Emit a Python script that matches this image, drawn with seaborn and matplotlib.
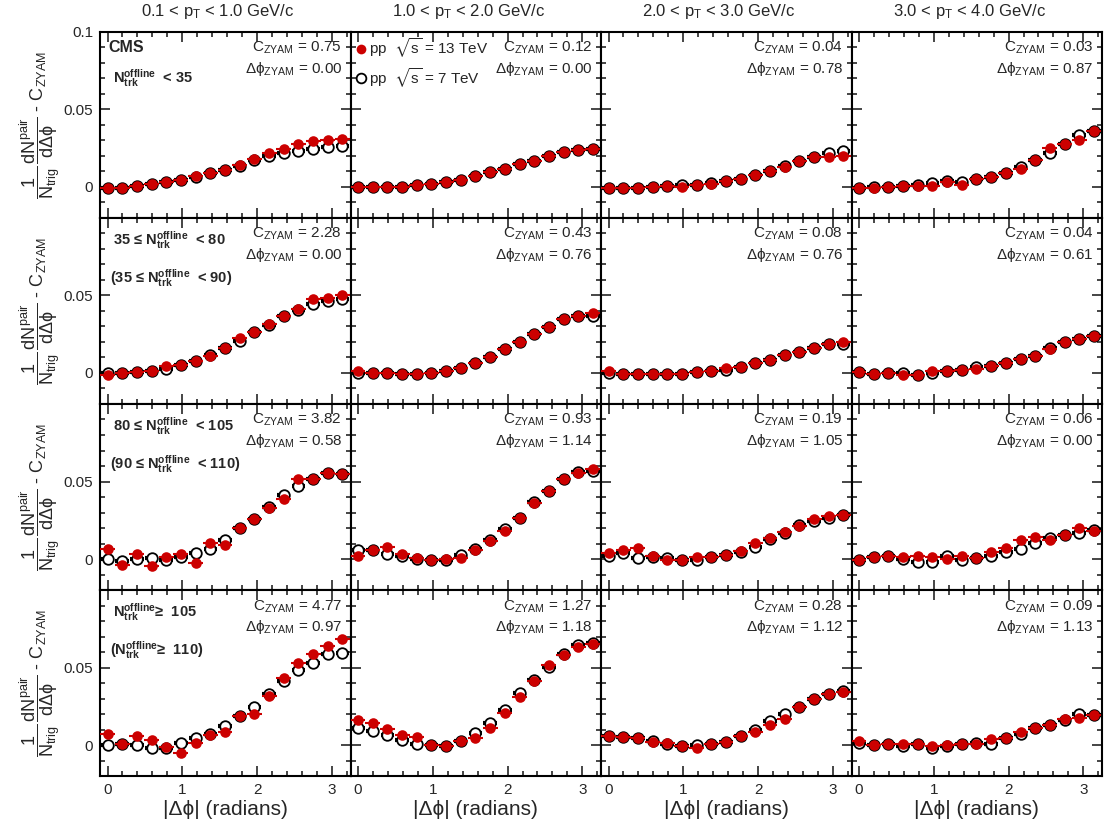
import numpy as np
import pandas as pd
import matplotlib
matplotlib.use("Agg")
import matplotlib.pyplot as plt
from matplotlib.ticker import MultipleLocator
from matplotlib.lines import Line2D
import seaborn as sns


# bin centres of |dphi| (0 .. pi, 16 bins)
dphi = [0.000, 0.196, 0.393, 0.589, 0.785, 0.982, 1.178, 1.374, 1.571,
        1.767, 1.963, 2.160, 2.356, 2.553, 2.749, 2.945, 3.142]

pt_bins = ["0.1 < p$_{\\rm T}$ < 1.0 GeV/c", "1.0 < p$_{\\rm T}$ < 2.0 GeV/c",
           "2.0 < p$_{\\rm T}$ < 3.0 GeV/c", "3.0 < p$_{\\rm T}$ < 4.0 GeV/c"]

# row 1 : N < 35
r1c1_13 = [-0.0004, -0.0004, 0.0006, 0.0017, 0.0032, 0.0043, 0.0069, 0.0090, 0.0112, 0.0144, 0.0183, 0.0216, 0.0246, 0.0276, 0.0297, 0.0302, 0.0308]
r1c1_7 = [-0.0004, -0.0004, 0.0006, 0.0017, 0.0032, 0.0043, 0.0067, 0.0088, 0.0108, 0.0138, 0.0172, 0.0198, 0.0216, 0.0233, 0.0248, 0.0259, 0.0263]
r1c2_13 = [0.0000, -0.0002, -0.0002, 0.0002, 0.0011, 0.0019, 0.0032, 0.0047, 0.0069, 0.0095, 0.0116, 0.0147, 0.0170, 0.0198, 0.0224, 0.0237, 0.0248]
r1c2_7 = [0.0000, -0.0002, -0.0002, 0.0002, 0.0011, 0.0019, 0.0032, 0.0047, 0.0069, 0.0095, 0.0116, 0.0147, 0.0170, 0.0198, 0.0224, 0.0237, 0.0248]
r1c3_13 = [-0.0004, -0.0006, -0.0004, 0.0000, 0.0004, 0.0002, 0.0011, 0.0019, 0.0039, 0.0052, 0.0078, 0.0100, 0.0126, 0.0167, 0.0193, 0.0195, 0.0201]
r1c3_7 = [-0.0004, -0.0006, -0.0004, 0.0000, 0.0004, 0.0011, 0.0011, 0.0028, 0.0039, 0.0052, 0.0078, 0.0100, 0.0136, 0.0167, 0.0193, 0.0216, 0.0229]
r1c4_13 = [-0.0004, -0.0004, 0.0002, 0.0009, 0.0006, 0.0004, 0.0032, 0.0013, 0.0054, 0.0065, 0.0091, 0.0115, 0.0173, 0.0251, 0.0277, 0.0303, 0.0359]
r1c4_7 = [-0.0004, 0.0002, 0.0002, 0.0009, 0.0011, 0.0026, 0.0039, 0.0030, 0.0052, 0.0065, 0.0093, 0.0126, 0.0177, 0.0216, 0.0277, 0.0335, 0.0361]

# row 2 : 35 <= N < 80
r2c1_13 = [-0.0015, -0.0002, 0.0006, 0.0013, 0.0048, 0.0052, 0.0080, 0.0110, 0.0160, 0.0227, 0.0262, 0.0318, 0.0370, 0.0416, 0.0476, 0.0483, 0.0500]
r2c1_7 = [0.0002, -0.0002, 0.0006, 0.0013, 0.0024, 0.0052, 0.0076, 0.0119, 0.0160, 0.0206, 0.0262, 0.0310, 0.0370, 0.0409, 0.0446, 0.0465, 0.0478]
r2c2_13 = [0.0011, -0.0002, -0.0002, -0.0006, -0.0009, -0.0002, 0.0013, 0.0032, 0.0067, 0.0102, 0.0154, 0.0201, 0.0253, 0.0297, 0.0346, 0.0370, 0.0387]
r2c2_7 = [-0.0002, -0.0002, -0.0002, -0.0006, -0.0009, -0.0002, 0.0013, 0.0032, 0.0067, 0.0102, 0.0154, 0.0201, 0.0253, 0.0297, 0.0346, 0.0370, 0.0370]
r2c3_13 = [0.0011, -0.0006, -0.0006, -0.0006, -0.0009, -0.0004, 0.0006, 0.0015, 0.0035, 0.0037, 0.0063, 0.0084, 0.0115, 0.0136, 0.0162, 0.0184, 0.0201]
r2c3_7 = [-0.0002, -0.0006, -0.0006, -0.0006, -0.0009, -0.0004, 0.0006, 0.0015, 0.0019, 0.0037, 0.0063, 0.0084, 0.0115, 0.0136, 0.0162, 0.0184, 0.0184]
r2c4_13 = [0.0006, -0.0006, -0.0002, -0.0011, -0.0011, 0.0011, 0.0011, 0.0019, 0.0028, 0.0045, 0.0067, 0.0089, 0.0110, 0.0154, 0.0201, 0.0219, 0.0236]
r2c4_7 = [0.0006, -0.0006, -0.0002, 0.0002, -0.0011, 0.0002, 0.0011, 0.0019, 0.0041, 0.0045, 0.0067, 0.0089, 0.0110, 0.0162, 0.0201, 0.0219, 0.0236]

# row 3 : 80 <= N < 105
r3c1_13 = [0.0065, -0.0037, 0.0035, -0.0043, 0.0011, 0.0030, -0.0026, 0.0104, 0.0093, 0.0201, 0.0255, 0.0329, 0.0385, 0.0515, 0.0519, 0.0556, 0.0548]
r3c1_7 = [0.0000, -0.0013, 0.0000, 0.0006, -0.0004, 0.0013, 0.0039, 0.0065, 0.0121, 0.0201, 0.0255, 0.0333, 0.0416, 0.0468, 0.0515, 0.0554, 0.0548]
r3c2_13 = [0.0022, 0.0061, 0.0076, 0.0035, 0.0004, -0.0004, 0.0000, 0.0004, 0.0061, 0.0117, 0.0180, 0.0262, 0.0359, 0.0437, 0.0515, 0.0554, 0.0580]
r3c2_7 = [0.0061, 0.0056, 0.0035, 0.0022, 0.0000, -0.0009, -0.0006, 0.0028, 0.0065, 0.0121, 0.0195, 0.0262, 0.0368, 0.0437, 0.0519, 0.0563, 0.0569]
r3c3_13 = [0.0039, 0.0061, 0.0071, 0.0017, -0.0004, -0.0009, 0.0013, 0.0013, 0.0028, 0.0050, 0.0104, 0.0136, 0.0177, 0.0212, 0.0255, 0.0277, 0.0286]
r3c3_7 = [0.0017, 0.0039, 0.0009, 0.0013, 0.0004, -0.0004, -0.0009, 0.0013, 0.0026, 0.0048, 0.0078, 0.0130, 0.0168, 0.0221, 0.0245, 0.0266, 0.0286]
r3c4_13 = [-0.0009, 0.0013, 0.0017, 0.0013, 0.0017, 0.0013, 0.0000, 0.0017, 0.0004, 0.0043, 0.0071, 0.0121, 0.0143, 0.0121, 0.0152, 0.0203, 0.0180]
r3c4_7 = [-0.0009, 0.0013, 0.0017, 0.0000, -0.0019, -0.0022, 0.0017, -0.0009, 0.0004, 0.0022, 0.0048, 0.0065, 0.0104, 0.0136, 0.0152, 0.0165, 0.0190]

# row 4 : N >= 105
r4c1_13 = [0.0073, 0.0004, 0.0058, 0.0030, -0.0011, -0.0052, 0.0015, 0.0065, 0.0086, 0.0188, 0.0203, 0.0317, 0.0431, 0.0526, 0.0586, 0.0636, 0.0683]
r4c1_7 = [0.0000, 0.0004, 0.0000, -0.0017, -0.0017, 0.0015, 0.0047, 0.0073, 0.0123, 0.0185, 0.0248, 0.0332, 0.0414, 0.0483, 0.0532, 0.0586, 0.0593]
r4c2_13 = [0.0160, 0.0139, 0.0106, 0.0065, 0.0054, 0.0000, -0.0009, 0.0026, 0.0048, 0.0113, 0.0208, 0.0307, 0.0411, 0.0519, 0.0578, 0.0632, 0.0654]
r4c2_7 = [0.0113, 0.0091, 0.0065, 0.0030, 0.0004, 0.0000, -0.0009, 0.0026, 0.0080, 0.0139, 0.0229, 0.0333, 0.0420, 0.0506, 0.0589, 0.0643, 0.0658]
r4c3_13 = [0.0058, 0.0052, 0.0043, 0.0022, 0.0013, -0.0009, -0.0017, 0.0004, 0.0022, 0.0056, 0.0087, 0.0130, 0.0171, 0.0247, 0.0294, 0.0329, 0.0340]
r4c3_7 = [0.0058, 0.0052, 0.0043, 0.0026, 0.0004, -0.0009, 0.0000, 0.0004, 0.0022, 0.0060, 0.0095, 0.0152, 0.0199, 0.0247, 0.0299, 0.0329, 0.0346]
r4c4_13 = [0.0026, 0.0000, 0.0004, 0.0004, 0.0009, -0.0009, 0.0000, 0.0004, 0.0004, 0.0037, 0.0048, 0.0082, 0.0108, 0.0128, 0.0165, 0.0177, 0.0195]
r4c4_7 = [0.0015, 0.0000, 0.0004, -0.0006, 0.0009, -0.0017, -0.0004, 0.0004, 0.0015, 0.0009, 0.0048, 0.0074, 0.0108, 0.0128, 0.0162, 0.0203, 0.0195]

c_zyam = [["0.75", "0.12", "0.04", "0.03"],
          ["2.28", "0.43", "0.08", "0.04"],
          ["3.82", "0.93", "0.19", "0.06"],
          ["4.77", "1.27", "0.28", "0.09"]]
dphi_zyam = [["0.00", "0.00", "0.78", "0.87"],
             ["0.00", "0.76", "0.76", "0.61"],
             ["0.58", "1.14", "1.05", "0.00"],
             ["0.97", "1.18", "1.12", "1.13"]]

ntrk = r"$\mathbf{N}_{\mathbf{trk}}^{\mathbf{offline}}$"
mult_labels = [[ntrk + "  < 35"],
               ["35 ≤ " + ntrk + "  < 80", "(35 ≤ " + ntrk + "  < 90)"],
               ["80 ≤ " + ntrk + "  < 105", "(90 ≤ " + ntrk + "  < 110)"],
               [ntrk + "≥  105", "(" + ntrk + "≥  110)"]]

pp13 = [[r1c1_13, r1c2_13, r1c3_13, r1c4_13],
        [r2c1_13, r2c2_13, r2c3_13, r2c4_13],
        [r3c1_13, r3c2_13, r3c3_13, r3c4_13],
        [r4c1_13, r4c2_13, r4c3_13, r4c4_13]]
pp7 = [[r1c1_7, r1c2_7, r1c3_7, r1c4_7],
       [r2c1_7, r2c2_7, r2c3_7, r2c4_7],
       [r3c1_7, r3c2_7, r3c3_7, r3c4_7],
       [r4c1_7, r4c2_7, r4c3_7, r4c4_7]]

sns.set_style("ticks")
plt.rcParams['font.family'] = ['Liberation Sans', 'DejaVu Sans']
plt.rcParams['mathtext.fontset'] = 'custom'
plt.rcParams['mathtext.rm'] = 'Liberation Sans'
plt.rcParams['mathtext.it'] = 'Liberation Sans:italic'
plt.rcParams['mathtext.bf'] = 'Liberation Sans:bold'
plt.rcParams['mathtext.sf'] = 'Liberation Sans'
plt.rcParams['mathtext.default'] = 'regular'
plt.rcParams['mathtext.fallback'] = 'stixsans'

red = '#cc0000'

fig, axes = plt.subplots(4, 4, figsize=(11.08, 8.26), dpi=100)
fig.subplots_adjust(left=0.0903, right=0.9946, top=0.9613, bottom=0.0605,
                    wspace=0, hspace=0)

ylab = (r"$\dfrac{1}{N_{\rm trig}}\,\dfrac{dN^{\rm pair}}{d\Delta\phi}$"
        r" - C$_{\rm ZYAM}$")

for r in range(4):
    for c in range(4):
        ax = axes[r, c]
        df = pd.DataFrame({'dphi': dphi, 'pp7': pp7[r][c], 'pp13': pp13[r][c]})

        ax.errorbar(df['dphi'], df['pp7'], xerr=0.09, fmt='none',
                    ecolor='black', elinewidth=3, capsize=0, zorder=2)
        sns.scatterplot(data=df, x='dphi', y='pp7', ax=ax, s=58, marker='o',
                        color='white', edgecolor='black', linewidth=1.3,
                        zorder=3)
        ax.errorbar(df['dphi'], df['pp13'], xerr=0.1, fmt='none',
                    ecolor=red, elinewidth=1.5, capsize=0, zorder=4)
        sns.scatterplot(data=df, x='dphi', y='pp13', ax=ax, s=58, marker='o',
                        color=red, linewidth=0, zorder=5)

        ax.set_xlim(-0.1, 3.25)
        ax.set_ylim(-0.02, 0.1)
        ax.xaxis.set_major_locator(MultipleLocator(1))
        ax.xaxis.set_minor_locator(MultipleLocator(0.2))
        ax.yaxis.set_minor_locator(MultipleLocator(0.01))
        ax.tick_params(which='both', direction='in', top=True, right=True,
                       width=1.2, labelsize=11, pad=5)
        ax.tick_params(which='major', length=7)
        ax.tick_params(which='minor', length=3.5)
        for sp in ax.spines.values():
            sp.set_linewidth(1.5)
            sp.set_color('black')

        if c == 0:
            ax.set_yticks([0, 0.05, 0.1], ['0', '0.05', '0.1' if r == 0 else ''])
            ax.set_ylabel(ylab, fontsize=13)
            ax.yaxis.set_label_coords(-0.15, 0.5)
        else:
            ax.set_yticks([0, 0.05, 0.1], ['', '', ''])
            ax.set_ylabel('')

        if r == 3:
            ax.set_xticks([0, 1, 2, 3], ['0', '1', '2', '3'])
            ax.set_xlabel('|Δϕ| (radians)', fontsize=15, labelpad=2)
        else:
            ax.set_xticks([0, 1, 2, 3], ['', '', '', ''])
            ax.set_xlabel('')

        if r == 0:
            ax.text(0.47, 1.11, pt_bins[c], transform=ax.transAxes,
                    ha='center', va='center', fontsize=12)

        ax.text(0.966, 0.892, "C$_{\\rm ZYAM}$ = " + c_zyam[r][c],
                transform=ax.transAxes, ha='right', va='baseline', fontsize=11)
        ax.text(0.966, 0.78, "Δϕ$_{\\rm ZYAM}$ = " + dphi_zyam[r][c],
                transform=ax.transAxes, ha='right', va='baseline', fontsize=11)

    # multiplicity labels in the first column
    ax = axes[r, 0]
    if r == 0:
        ax.text(0.032, 0.892, "CMS", transform=ax.transAxes, ha='left',
                va='baseline', fontsize=11.5, fontweight='bold')
        ax.text(0.052, 0.726, mult_labels[r][0], transform=ax.transAxes,
                ha='left', va='baseline', fontsize=10.5, fontweight='bold')
    else:
        ax.text(0.052, 0.855, mult_labels[r][0], transform=ax.transAxes,
                ha='left', va='baseline', fontsize=10.5, fontweight='bold')
        ax.text(0.04, 0.65, mult_labels[r][1], transform=ax.transAxes,
                ha='left', va='baseline', fontsize=10.5, fontweight='bold')

handles = [Line2D([], [], marker='o', linestyle='none', color=red,
                  markersize=7, markeredgewidth=0),
           Line2D([], [], marker='o', linestyle='none', markerfacecolor='white',
                  markeredgecolor='black', markersize=7, markeredgewidth=1.3)]
axes[0, 1].legend(handles, [r"pp  $\sqrt{s}$ = 13 TeV", r"pp  $\sqrt{s}$ = 7 TeV"],
                  loc='upper left', bbox_to_anchor=(-0.025, 1.035), frameon=False,
                  fontsize=11, handlelength=0.8, handletextpad=0.15,
                  labelspacing=0.4, borderaxespad=0.3)

fig.savefig('out.png', dpi=100)
